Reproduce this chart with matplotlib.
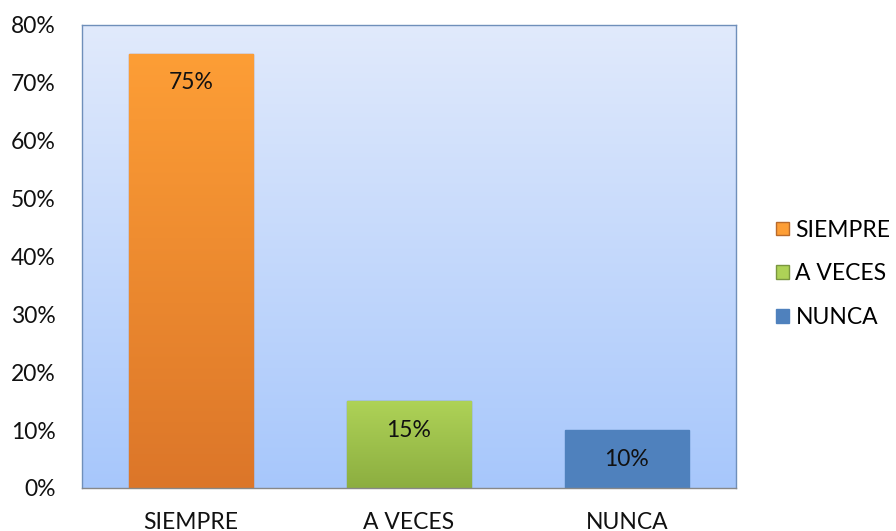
import numpy as np
import matplotlib.pyplot as plt
from matplotlib.colors import LinearSegmentedColormap
from matplotlib.patches import Patch

plt.rcParams['font.family'] = ['Lato', 'DejaVu Sans']

categories = ['SIEMPRE', 'A VECES', 'NUNCA']
values = [75, 15, 10]
labels = ['75%', '15%', '10%']
ticks = [0, 10, 20, 30, 40, 50, 60, 70, 80]

top_colors = ['#fd9e36', '#aed257', '#4f81bd']
bot_colors = ['#dc7629', '#8cae40', '#4f81bd']
edge_colors = ['#b86a2c', '#7a9640', '#4f81bd']

fig = plt.figure(figsize=(8.96, 5.31), dpi=100)
ax = fig.add_axes([0.0915, 0.081, 0.7299, 0.872])

# background gradient
bg = LinearSegmentedColormap.from_list('bg', ['#a7c7fb', '#e1eafc'])
grad = np.linspace(0, 1, 256).reshape(-1, 1)
ax.imshow(grad, cmap=bg, aspect='auto', extent=[-0.5, 2.5, 0, 80],
          origin='lower', zorder=0)

x = np.arange(len(categories))
bars = ax.bar(x, values, width=0.57, color=top_colors, edgecolor=edge_colors,
              linewidth=1.0, zorder=2)

for i, b in enumerate(bars):
    if top_colors[i] != bot_colors[i]:
        cm = LinearSegmentedColormap.from_list('b%d' % i, [bot_colors[i], top_colors[i]])
        im = ax.imshow(grad, cmap=cm, aspect='auto',
                       extent=[b.get_x(), b.get_x() + b.get_width(), 0, b.get_height()],
                       origin='lower', zorder=2.5)
        im.set_clip_path(b)
    ax.text(x[i], values[i] - 5, labels[i], ha='center', va='center',
            fontsize=16.5, color='#111111', zorder=4)

ax.set_xlim(-0.5, 2.5)
ax.set_ylim(0, 80)
ax.set_yticks(ticks)
ax.set_yticklabels([f'{t}%' for t in ticks])
ax.set_xticks(x)
ax.set_xticklabels(categories)
ax.tick_params(axis='both', length=0, labelsize=16.5, colors='#111111')
ax.tick_params(axis='y', pad=19)
ax.tick_params(axis='x', pad=17)
for s in ax.spines.values():
    s.set_color('#6f8fba')
    s.set_linewidth(1.0)
ax.spines['bottom'].set_color('#888888')

handles = [Patch(facecolor=top_colors[i], edgecolor=edge_colors[i], label=categories[i])
           for i in range(3)]
fig.legend(handles=handles, loc='center left', bbox_to_anchor=(0.866, 0.484),
           frameon=False, fontsize=16.5, handlelength=0.55, handleheight=0.55,
           handletextpad=0.3, labelspacing=1.0, borderpad=0, borderaxespad=0)

fig.savefig('out.png', dpi=100)
